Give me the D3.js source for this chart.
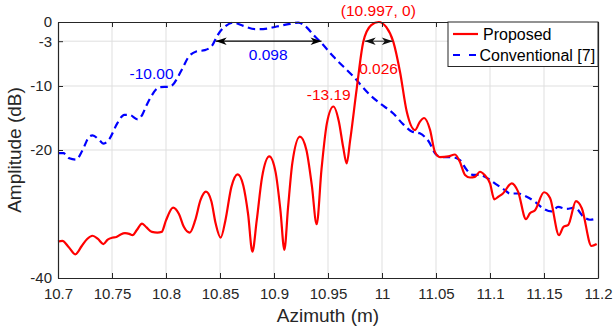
<!DOCTYPE html>
<html>
<head>
<meta charset="utf-8">
<script src="https://cdn.jsdelivr.net/npm/d3@7"></script>
<style>
  html, body { margin: 0; padding: 0; background: #fff; }
  svg { display: block; font-family: "Liberation Sans", Arial, Helvetica, sans-serif; }
</style>
</head>
<body>
<svg id="chart" width="613" height="329"></svg>
<script>
// ---------------- DATA ----------------
const xTicks = [10.7, 10.75, 10.8, 10.85, 10.9, 10.95, 11, 11.05, 11.1, 11.15, 11.2];
const xTickLabels = ["10.7", "10.75", "10.8", "10.85", "10.9", "10.95", "11", "11.05", "11.1", "11.15", "11.2"];
const yTicks = [-40, -20, -10, -3, 0];
const yTickLabels = ["-40", "-20", "-10", "-3", "0"];
const seriesNames = ["Proposed", "Conventional [7]"];

const proposedAz = [10.700, 10.704, 10.710, 10.716, 10.722, 10.727, 10.732, 10.737, 10.742, 10.746,
  10.750, 10.754, 10.758, 10.762, 10.766, 10.769, 10.773, 10.7778, 10.782, 10.787,
  10.792, 10.796, 10.800, 10.8065, 10.812, 10.8165, 10.822, 10.827, 10.832, 10.837,
  10.842, 10.846, 10.8506, 10.855, 10.8605, 10.8664, 10.8715, 10.876, 10.880, 10.884,
  10.889, 10.8957, 10.9015, 10.906, 10.9096, 10.913, 10.917, 10.924, 10.930, 10.935,
  10.9395, 10.944, 10.949, 10.955, 10.960, 10.964, 10.9673, 10.9705, 10.9766, 10.9827,
  10.990, 10.997, 11.004, 11.0105, 11.0167, 11.0229, 11.0306, 11.035, 11.039, 11.0444,
  11.049, 11.0537, 11.0614, 11.0676, 11.072, 11.0769, 11.0815, 11.086, 11.0907, 11.095,
  11.100, 11.104, 11.1077, 11.112, 11.1201, 11.126, 11.1333, 11.137, 11.1417, 11.150,
  11.1556, 11.1639, 11.168, 11.1725, 11.1796, 11.185, 11.194, 11.1988];
const proposedDb = [-34.3, -34.2, -35.2, -36.3, -35.0, -33.9, -33.4, -33.9, -34.7, -34.0,
  -33.7, -33.6, -33.2, -33.0, -33.1, -33.3, -32.5, -31.5, -32.1, -32.8,
  -32.9, -32.8, -31.0, -29.0, -30.0, -32.0, -32.9, -31.0, -27.8, -26.5,
  -28.0, -31.5, -33.7, -31.0, -25.8, -23.8, -25.5, -30.0, -35.9, -31.0,
  -24.2, -21.0, -23.5, -29.5, -35.6, -29.0, -22.0, -17.9, -20.0, -25.5,
  -31.6, -23.0, -15.8, -13.2, -15.5, -19.5, -22.1, -18.5, -10.4, -3.1,
  -0.5, 0, -0.8, -3.1, -7.8, -14.0, -16.9, -15.6, -15.0, -16.8,
  -20.3, -21.1, -21.0, -20.7, -21.8, -23.9, -24.3, -24.2, -23.4, -23.9,
  -25.2, -27.7, -27.3, -26.8, -25.2, -26.5, -30.8, -29.9, -29.4, -26.6,
  -27.5, -33.3, -32.0, -31.7, -28.0, -29.1, -35.0, -34.7];

const conventionalAz = [10.700, 10.705, 10.7105, 10.7167, 10.7228, 10.729, 10.732, 10.738, 10.7423, 10.7475,
  10.755, 10.7614, 10.766, 10.7738, 10.778, 10.782, 10.786, 10.794, 10.8037, 10.8145,
  10.8207, 10.828, 10.836, 10.843, 10.848, 10.8546, 10.8623, 10.8716, 10.8824, 10.890,
  10.9025, 10.9148, 10.9225, 10.930, 10.9364, 10.944, 10.955, 10.9734, 10.9889, 10.998,
  11.0105, 11.0197, 11.0275, 11.035, 11.043, 11.0506, 11.0568, 11.0645, 11.0722, 11.0784,
  11.0846, 11.0907, 11.0984, 11.1062, 11.114, 11.1185, 11.126, 11.134, 11.1417, 11.149,
  11.157, 11.163, 11.171, 11.1787, 11.1864, 11.1926, 11.1988];
const conventionalDb = [-20.5, -20.5, -21.3, -21.5, -20.0, -17.9, -17.7, -18.4, -19.0, -18.3,
  -15.8, -14.5, -14.5, -15.2, -14.5, -13.0, -11.7, -10.2, -10.1, -7.5,
  -5.5, -4.6, -4.4, -3.6, -2.0, -0.7, -0.1, -0.6, -1.1, -1.1,
  -0.7, -0.3, -0.1, -0.8, -2.0, -3.3, -5.4, -8.5, -11.4, -12.7,
  -14.3, -16.0, -17.1, -17.4, -18.6, -20.8, -21.1, -21.1, -21.6, -23.1,
  -23.9, -23.9, -24.5, -25.4, -26.3, -26.8, -26.8, -27.3, -28.1, -29.1,
  -29.6, -28.9, -29.2, -29.0, -30.4, -30.9, -30.7];

// annotations: [x, y] in data units
const widthArrowConv = [10.846, 10.944, -3];
const widthArrowProp = [10.984, 11.010, -3];
const annotations = [
  { text: "(10.997, 0)", x: 10.9966, y: 1.0, color: "#ff0000" },
  { text: "0.098", x: 10.8946, y: -5.9, color: "#0000ff" },
  { text: "0.026", x: 10.9968, y: -8.2, color: "#ff0000" },
  { text: "-10.00", x: 10.7866, y: -8.9, color: "#0000ff" },
  { text: "-13.19", x: 10.9507, y: -12.2, color: "#ff0000" }
];

// ---------------- LAYOUT ----------------
const svg = d3.select("#chart");
const L = 58, R = 598, T = 22, B = 278;
const x = d3.scaleLinear().domain([10.7, 11.2]).range([L, R]);
const y = d3.scaleLinear().domain([-40, 0]).range([B, T]);
const axisColor = "#262626";
const gridColor = "#dfdfdf";

// grid
const grid = svg.append("g");
grid.selectAll("line.gx").data(xTicks.slice(1, -1)).enter().append("line")
  .attr("x1", d => x(d)).attr("x2", d => x(d)).attr("y1", T).attr("y2", B)
  .attr("stroke", gridColor).attr("stroke-width", 1);
grid.selectAll("line.gy").data(yTicks.filter(d => d > -40 && d < 0)).enter().append("line")
  .attr("x1", L).attr("x2", R).attr("y1", d => y(d)).attr("y2", d => y(d))
  .attr("stroke", gridColor).attr("stroke-width", 1);

// curves
const proposed = proposedAz.map((a, i) => [a, proposedDb[i]]);
const conventional = conventionalAz.map((a, i) => [a, conventionalDb[i]]);
const line = d3.line().x(d => x(d[0])).y(d => y(d[1])).curve(d3.curveMonotoneX);

svg.append("path").datum(conventional).attr("d", line)
  .attr("fill", "none").attr("stroke", "#0000ff").attr("stroke-width", 2.2)
  .attr("stroke-dasharray", "7.5,4.5");
svg.append("path").datum(proposed).attr("d", line)
  .attr("fill", "none").attr("stroke", "#ff0000").attr("stroke-width", 2.2)
  .attr("stroke-linejoin", "round");

// axes
const fmtX = d => xTickLabels[xTicks.indexOf(d)];
const fmtY = d => yTickLabels[yTicks.indexOf(d)];
const axB = svg.append("g").attr("transform", `translate(0,${B})`)
  .call(d3.axisBottom(x).tickValues(xTicks).tickFormat(fmtX).tickSizeInner(-5).tickSizeOuter(0).tickPadding(10));
const axT = svg.append("g").attr("transform", `translate(0,${T})`)
  .call(d3.axisTop(x).tickValues(xTicks).tickFormat("").tickSizeInner(-5).tickSizeOuter(0));
const axLft = svg.append("g").attr("transform", `translate(${L},0)`)
  .call(d3.axisLeft(y).tickValues(yTicks).tickFormat(fmtY).tickSizeInner(-5).tickSizeOuter(0).tickPadding(6));
const axRt = svg.append("g").attr("transform", `translate(${R},0)`)
  .call(d3.axisRight(y).tickValues(yTicks).tickFormat("").tickSizeInner(-5).tickSizeOuter(0));
[axB, axT, axLft, axRt].forEach(g => {
  g.selectAll("path.domain").attr("stroke", axisColor).attr("stroke-width", 1.2);
  g.selectAll(".tick line").attr("stroke", axisColor).attr("stroke-width", 1);
  g.selectAll("text").attr("fill", axisColor).style("font-size", "15px")
    .style("font-family", '"Liberation Sans", Arial, sans-serif');
});

// axis titles
svg.append("text").attr("x", (L + R) / 2).attr("y", 322).attr("text-anchor", "middle")
  .attr("fill", axisColor).style("font-size", "19px").text("Azimuth (m)");
svg.append("text").attr("transform", `translate(21,${(T + B) / 2}) rotate(-90)`)
  .attr("text-anchor", "middle").attr("fill", axisColor).style("font-size", "19px").text("Amplitude (dB)");

// arrows
const defs = svg.append("defs");
function marker(id, color) {
  defs.append("marker").attr("id", id).attr("viewBox", "-12 -5 12 10")
    .attr("refX", 0).attr("refY", 0).attr("markerWidth", 12).attr("markerHeight", 10)
    .attr("markerUnits", "userSpaceOnUse").attr("orient", "auto-start-reverse")
    .append("path").attr("d", "M0,0 L-11,-3.8 L-8,0 L-11,3.8 Z").attr("fill", color);
}
marker("ah", "#000");
marker("ah2", "#111");
function arrow(a, color, mid) {
  svg.append("line").attr("x1", x(a[0])).attr("x2", x(a[1]))
    .attr("y1", y(a[2])).attr("y2", y(a[2]))
    .attr("stroke", color).attr("stroke-width", 1.2)
    .attr("marker-start", `url(#${mid})`).attr("marker-end", `url(#${mid})`);
}
arrow(widthArrowConv, "#000", "ah");
arrow(widthArrowProp, "#444", "ah2");

// annotations
svg.selectAll("text.ann").data(annotations).enter().append("text")
  .attr("class", "ann")
  .attr("x", d => x(d.x)).attr("y", d => y(d.y))
  .attr("text-anchor", "middle").attr("fill", d => d.color)
  .style("font-size", "15.5px").text(d => d.text);

// legend
const lg = svg.append("g");
lg.append("rect").attr("x", 448).attr("y", T).attr("width", R - 448).attr("height", 44.5)
  .attr("fill", "#fff").attr("stroke", axisColor).attr("stroke-width", 1);
lg.append("line").attr("x1", 453).attr("x2", 478).attr("y1", 34).attr("y2", 34)
  .attr("stroke", "#ff0000").attr("stroke-width", 2.2);
lg.append("line").attr("x1", 453).attr("x2", 478).attr("y1", 55).attr("y2", 55)
  .attr("stroke", "#0000ff").attr("stroke-width", 2.2).attr("stroke-dasharray", "7,9");
lg.append("text").attr("x", 483).attr("y", 40).attr("fill", "#000").style("font-size", "16px").text(seriesNames[0]);
lg.append("text").attr("x", 479.5).attr("y", 61).attr("fill", "#000").style("font-size", "16px").text(seriesNames[1]);
</script>
</body>
</html>
